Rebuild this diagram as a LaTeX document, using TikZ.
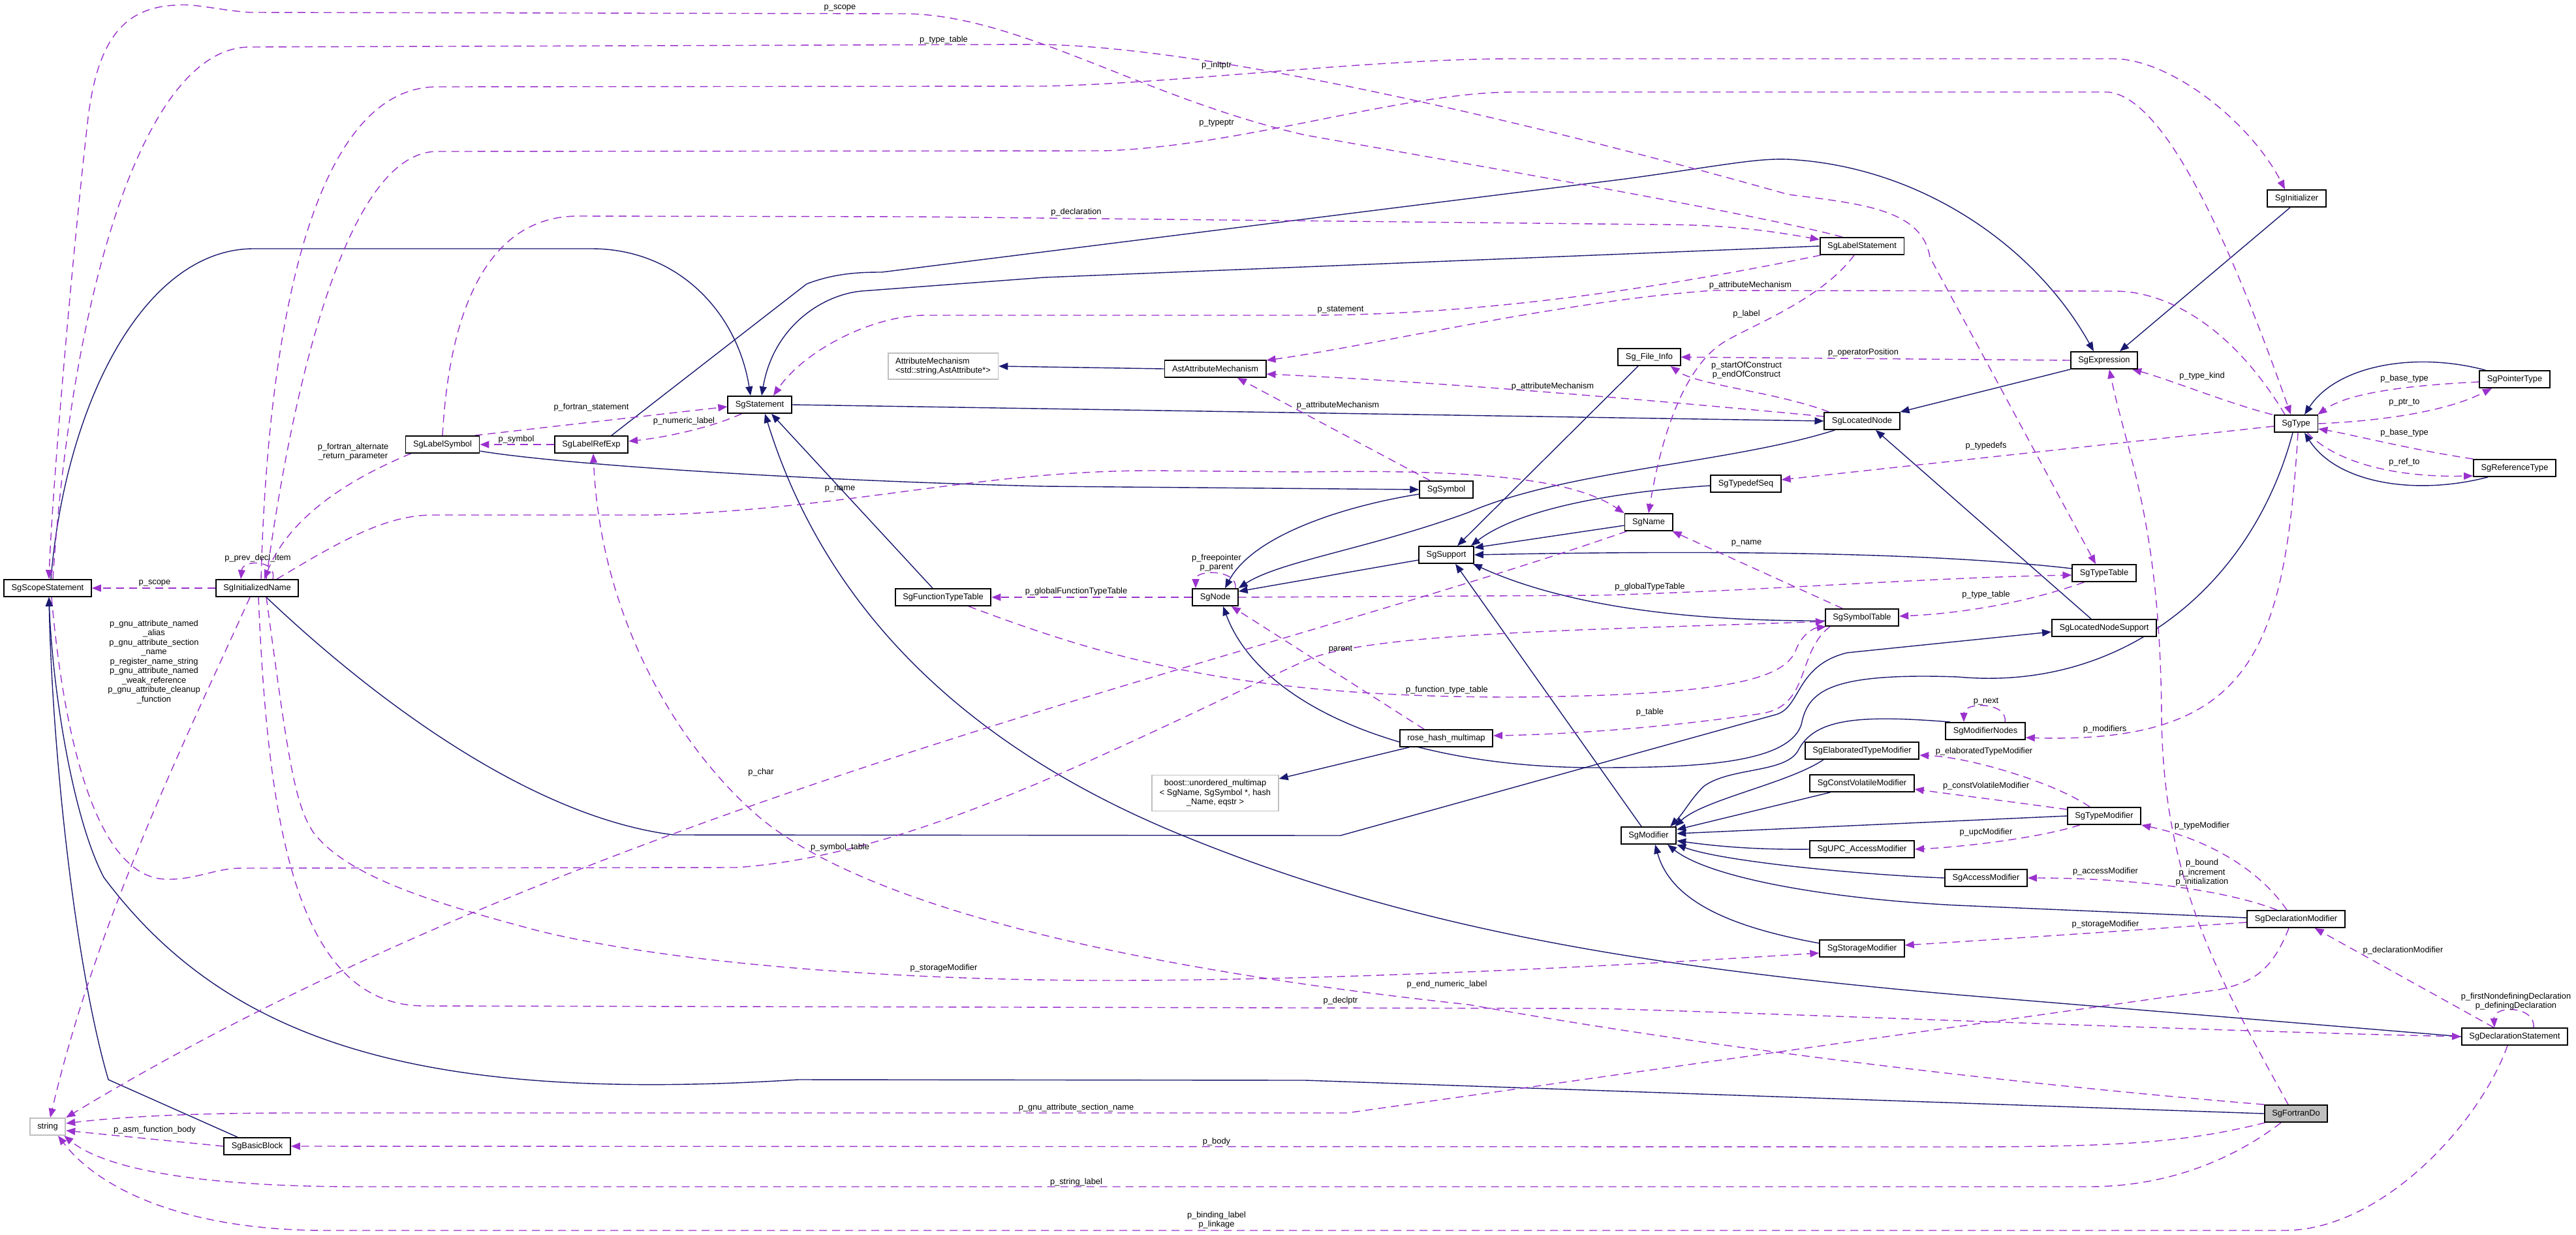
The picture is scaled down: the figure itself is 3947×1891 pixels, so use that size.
\documentclass[tikz,border=0pt]{standalone}
\usepackage{fontspec}
\setmainfont{Liberation Sans}
\usetikzlibrary{arrows.meta,calc}
\definecolor{navy}{RGB}{25,25,112}
\definecolor{orchid}{RGB}{154,50,205}
\definecolor{grey75}{RGB}{191,191,191}
\newcommand{\nfont}{\fontsize{6.42pt}{7.25pt}\selectfont}
\pgfdeclarelayer{bg}
\pgfdeclarelayer{paper}
\pgfsetlayers{paper,bg,main}
\begin{document}
\begin{tikzpicture}[x=0.5pt,y=-0.5pt,
  cls/.style={draw=black,line width=0.9pt,fill=white,minimum height=13pt,inner xsep=5.8pt,inner ysep=1pt,font=\nfont},
  extcls/.style={cls,draw=grey75},
  inh/.style={draw=navy,line width=0.7pt,-{Triangle[length=7pt,width=5.5pt]}},
  usage/.style={draw=orchid,line width=0.7pt,dash pattern=on 6pt off 4pt,-{Triangle[length=7pt,width=5.5pt]}},
  lbl/.style={font=\nfont,inner sep=0pt,align=center}]
\begin{pgfonlayer}{paper}
\fill[white] (0,0) rectangle (3947,1891);
\end{pgfonlayer}
\useasboundingbox (0,0) rectangle (3947,1891);
% nodes
\node[cls] (scope) at (73,901) {SgScopeStatement};
\node[cls] (iname) at (394,901) {SgInitializedName};
\node[cls] (lsym) at (678,681) {SgLabelSymbol};
\node[cls] (lref) at (906,681) {SgLabelRefExp};
\node[cls] (stmt) at (1164,620) {SgStatement};
\node[extcls,align=left,inner ysep=3.5pt] (attm) at (1445,561) {AttributeMechanism\\<std::string,AstAttribute*>};
\node[cls] (astm) at (1862,565) {AstAttributeMechanism};
\node[cls] (lstmt) at (2853,377) {SgLabelStatement};
\node[cls] (finfo) at (2527,547) {Sg\_File\_Info};
\node[cls] (lnode) at (2853,645) {SgLocatedNode};
\node[cls] (init) at (3519,304) {SgInitializer};
\node[cls] (expr) at (3224,552) {SgExpression};
\node[cls] (ptype) at (3853,581) {SgPointerType};
\node[cls] (sgtype) at (3518,649) {SgType};
\node[cls] (rtype) at (3853,717) {SgReferenceType};
\node[cls] (ttab) at (3224,878) {SgTypeTable};
\node[cls] (lns) at (3224,962) {SgLocatedNodeSupport};
\node[cls] (mnodes) at (3042,1120) {SgModifierNodes};
\node[cls] (tmod) at (3224,1250) {SgTypeModifier};
\node[cls] (sym) at (2216,750) {SgSymbol};
\node[cls] (sup) at (2216,850) {SgSupport};
\node[cls] (sgname) at (2526,800) {SgName};
\node[cls] (tdseq) at (2675,741) {SgTypedefSeq};
\node[cls] (symtab) at (2853,946) {SgSymbolTable};
\node[cls] (rhm) at (2216,1131) {rose\_hash\_multimap};
\node[cls] (etmod) at (2853,1150) {SgElaboratedTypeModifier};
\node[cls] (cvmod) at (2853,1200) {SgConstVolatileModifier};
\node[cls] (sgmod) at (2526,1280) {SgModifier};
\node[cls] (ftt) at (1445,915) {SgFunctionTypeTable};
\node[cls] (sgnode) at (1862,915) {SgNode};
\node[extcls,align=center,inner ysep=3.5pt] (boost) at (1862,1215) {boost::unordered\_multimap\\< SgName, SgSymbol *, hash\\\_Name, eqstr >};
\node[cls] (upc) at (2853,1301) {SgUPC\_AccessModifier};
\node[cls] (amod) at (3043,1345) {SgAccessModifier};
\node[cls] (smod) at (2853,1453) {SgStorageModifier};
\node[cls] (dmod) at (3518,1408) {SgDeclarationModifier};
\node[cls] (dstmt) at (3853,1588) {SgDeclarationStatement};
\node[cls,fill=grey75] (fdo) at (3518,1706) {SgFortranDo};
\node[extcls] (str) at (73,1726) {string};
\node[cls] (bb) at (394,1756) {SgBasicBlock};
\begin{pgfonlayer}{bg}
% inheritance
\draw[inh] ($(scope.north)+(5,0)$) .. controls (100,620) and (220,381) .. (389,381) -- (906,381) .. controls (1040,381) and (1130,480) .. ($(stmt.north)+(-14,0)$);
\draw[inh] ($(bb.north)+(-30,0)$) -- (166,1654) .. controls (115,1480) and (80,1150) .. ($(scope.south)+(2,0)$);
\draw[inh] (fdo.west) -- (2000,1655) -- (1223,1654) .. controls (650,1690) and (350,1600) .. (159,1344) .. controls (110,1250) and (80,1050) .. ($(scope.south)+(2,0)$);
\draw[inh] (stmt.east) -- (lnode.west);
\draw[inh] (lstmt.west) -- (1600,425) -- (1319,446) .. controls (1260,452) and (1185,500) .. ($(stmt.north)+(3,0)$);
\draw[inh] (dstmt.west) -- (3000,1524) .. controls (2500,1480) and (2150,1420) .. (1800,1275) .. controls (1500,1150) and (1270,950) .. ($(stmt.south)+(8,0)$);
\draw[inh] ($(ftt.north)+(-16,0)$) -- ($(stmt.south)+(18,0)$);
\draw[inh] ($(lref.north)+(31,0)$) -- (1236,435) .. controls (1280,418) and (1320,417) .. (1351,417) -- (2491,274) .. controls (2650,252) and (2700,240) .. (2753,245) .. controls (2950,260) and (3120,380) .. ($(expr.north)+(-16,0)$);
\draw[inh] ($(init.south)+(-10,0)$) -- ($(expr.north)+(24,0)$);
\draw[inh] (expr.south west) -- (lnode.north east);
\draw[inh] (astm.west) -- (attm.east);
\draw[inh] ($(lsym.east)+(0,10)$) .. controls (850,710) and (1200,735) .. (1600,745) -- (sym.west);
\draw[inh] ($(sym.west)+(0,7)$) .. controls (2060,775) and (1920,820) .. ($(sgnode.north)+(15,0)$);
\draw[inh] ($(lnode.south west)+(17,0)$) .. controls (2650,710) and (2400,720) .. (2250,785) .. controls (2100,840) and (1960,860) .. (sgnode.north east);
\draw[inh] ($(sup.west)+(0,8)$) -- ($(sgnode.east)+(0,-9)$);
\draw[inh] ($(sgtype.south)+(-5,0)$) .. controls (3450,900) and (3250,1060) .. (3000,1037) .. controls (2800,1030) and (2770,1060) .. (2760,1110) .. controls (2740,1170) and (2600,1176) .. (2446,1176) .. controls (2150,1176) and (1930,1080) .. ($(sgnode.south)+(12,0)$);
\draw[inh] ($(finfo.south)+(-17,0)$) -- ($(sup.north)+(17,0)$);
\draw[inh] ($(sgname.west)+(0,5)$) -- ($(sup.north east)+(0,3)$);
\draw[inh] ($(tdseq.west)+(0,3)$) .. controls (2450,755) and (2320,785) .. ($(sup.north east)+(-5,0)$);
\draw[inh] ($(ttab.west)+(0,-7)$) .. controls (2950,845) and (2600,843) .. (sup.east);
\draw[inh] ($(symtab.west)+(0,5)$) .. controls (2550,952) and (2380,920) .. ($(sup.south east)+(-2,0)$);
\draw[inh] ($(sgmod.north)+(-11,0)$) -- ($(sup.south)+(14,0)$);
\draw[inh] ($(lns.north)+(-20,0)$) -- ($(lnode.south)+(21,0)$);
\draw[inh] ($(iname.south)+(14,0)$) .. controls (550,1050) and (800,1250) .. (1032,1279) -- (2054,1280) -- (2720,1095) .. controls (2760,1085) and (2750,1020) .. (2830,1000) -- ($(lns.west)+(0,6)$);
\draw[inh] ($(rhm.south west)+(15,0)$) -- ($(boost.east)+(0,-22)$);
\draw[inh] ($(mnodes.north west)+(8,0)$) .. controls (2850,1095) and (2780,1100) .. (2755,1150) .. controls (2735,1185) and (2650,1175) .. (2610,1205) .. controls (2590,1225) and (2580,1245) .. ($(sgmod.north east)+(-10,0)$);
\draw[inh] ($(etmod.south west)+(29,0)$) .. controls (2740,1200) and (2610,1225) .. ($(sgmod.north east)+(-3,0)$);
\draw[inh] ($(cvmod.south west)+(32,0)$) -- ($(sgmod.east)+(0,-9)$);
\draw[inh] (tmod.west) -- ($(sgmod.east)+(0,-3)$);
\draw[inh] (upc.west) .. controls (2680,1302) and (2620,1295) .. ($(sgmod.east)+(0,8)$);
\draw[inh] (amod.west) .. controls (2850,1340) and (2640,1320) .. (sgmod.south east);
\draw[inh] ($(dmod.west)+(0,-2)$) -- (3000,1387) .. controls (2800,1377) and (2620,1345) .. ($(sgmod.south)+(29,0)$);
\draw[inh] ($(smod.west)+(0,-8)$) .. controls (2650,1420) and (2560,1380) .. ($(sgmod.south)+(10,0)$);
\draw[inh] ($(rtype.south west)+(23,0)$) .. controls (3700,760) and (3580,740) .. ($(sgtype.south)+(13,0)$);
\draw[inh] ($(ptype.north west)+(10,0)$) .. controls (3700,538) and (3580,560) .. ($(sgtype.north)+(13,0)$);
% usage
\draw[usage] (iname.west) -- (scope.east);
\draw[usage] ($(iname.north)+(24,0)$) .. controls (425,857) and (372,857) .. ($(iname.north)+(-25,0)$);
\draw[usage] ($(lsym.south west)+(9,0)$) .. controls (520,740) and (440,800) .. ($(iname.north)+(11,0)$);
\draw[usage] ($(lsym.north east)+(-8,0)$) -- ($(stmt.west)+(0,3)$);
\draw[usage] (lref.west) -- (lsym.east);
\draw[usage] ($(stmt.south west)+(22,0)$) .. controls (1090,655) and (1020,670) .. ($(lref.east)+(0,-5)$);
\draw[usage] ($(iname.north east)+(-34,0)$) .. controls (520,830) and (590,789) .. (663,789) -- (1000,789) .. controls (1300,780) and (1500,721) .. (1765,721) -- (2000,723) .. controls (2300,718) and (2420,740) .. (sgname.north west);
\draw[usage] ($(iname.north)+(6,0)$) .. controls (410,500) and (480,133) .. (670,133) -- (1600,132) .. controls (1800,128) and (2100,90) .. (2320,90) -- (3240,90) .. controls (3330,92) and (3450,190) .. ($(init.north)+(-18,0)$);
\draw[usage] ($(iname.north)+(14,0)$) .. controls (440,650) and (520,232) .. (670,232) -- (1690,231) .. controls (1900,225) and (2150,141) .. (2320,141) -- (3230,141) .. controls (3320,150) and (3420,380) .. ($(sgtype.north)+(-8,0)$);
\draw[usage] ($(scope.north)+(8,0)$) .. controls (110,450) and (220,72) .. (383,72) -- (1590,68) .. controls (1900,72) and (2500,230) .. (2740,298) .. controls (2850,312) and (2945,320) .. (2957,394) -- ($(ttab.north)+(-13,0)$);
\draw[usage] ($(lstmt.north)+(-30,0)$) .. controls (2700,330) and (2300,260) .. (2000,207) .. controls (1750,150) and (1560,21) .. (1383,21) -- (383,19) .. controls (330,15) and (300,5) .. (268,8) .. controls (190,12) and (150,60) .. (135,180) .. controls (110,400) and (80,750) .. ($(scope.north)+(2,0)$);
\draw[usage] (lsym.north) .. controls (690,450) and (760,331) .. (886,331) -- (1400,332) -- (2540,344) .. controls (2650,344) and (2720,355) .. ($(lstmt.west)+(0,-10)$);
\draw[usage] ($(lstmt.south west)+(2,0)$) .. controls (2600,430) and (2300,483) .. (2000,483) -- (1415,483) .. controls (1330,485) and (1230,540) .. ($(stmt.north)+(21,0)$);
\draw[usage] ($(sgtype.north)+(-17,0)$) .. controls (3420,500) and (3320,446) .. (3240,446) -- (2625,445) .. controls (2400,460) and (2100,530) .. ($(astm.east)+(0,-13)$);
\draw[usage] ($(lnode.west)+(0,-7)$) .. controls (2500,610) and (2200,585) .. ($(astm.east)+(0,8)$);
\draw[usage] ($(sym.north)+(-25,0)$) -- ($(astm.south)+(34,0)$);
\draw[usage] (expr.west) -- (finfo.east);
\draw[usage] ($(lnode.north west)+(8,0)$) .. controls (2720,600) and (2600,590) .. ($(finfo.south east)+(-16,0)$);
\draw[usage] ($(lstmt.south)+(-12,0)$) .. controls (2790,460) and (2680,500) .. (2640,525) .. controls (2570,570) and (2540,700) .. (sgname.north);
\draw[usage] ($(sgnode.north)+(31,0)$) .. controls (1897,872) and (1832,872) .. ($(sgnode.north)+(-30,0)$);
\draw[usage] (sgnode.west) -- (ftt.east);
\draw[usage] (sgnode.east) -- (2450,912) .. controls (2700,905) and (2950,885) .. ($(ttab.west)+(0,3)$);
\draw[usage] ($(ftt.south east)+(-35,0)$) .. controls (1700,1010) and (1900,1068) .. (2320,1068) .. controls (2650,1065) and (2735,1040) .. (2752,995) .. controls (2762,970) and (2780,962) .. ($(symtab.south west)+(2,0)$);
\draw[usage] ($(symtab.south west)+(8,0)$) .. controls (2752,1000) and (2775,1080) .. (2700,1093) .. controls (2550,1115) and (2400,1125) .. ($(rhm.east)+(0,-4)$);
\draw[usage] ($(rhm.north)+(-34,0)$) -- ($(sgnode.south east)+(-11,0)$);
\draw[usage] ($(scope.south)+(6,0)$) .. controls (95,1100) and (140,1345) .. (255,1347) .. controls (300,1348) and (330,1330) .. (370,1330) -- (1128,1329) .. controls (1400,1310) and (1700,1150) .. (2000,1012) .. controls (2100,968) and (2450,965) .. ($(symtab.west)+(0,6)$);
\draw[usage] ($(sgname.south west)+(4,0)$) .. controls (1900,1020) and (900,1230) .. (str.north east);
\draw[usage] ($(iname.south)+(-11,0)$) .. controls (300,1100) and (150,1400) .. ($(str.north)+(4,0)$);
\draw[usage] ($(iname.south)+(2,0)$) .. controls (410,1250) and (450,1541) .. (650,1541) -- (2450,1545) .. controls (2800,1555) and (3400,1580) .. (dstmt.west);
\draw[usage] ($(iname.south)+(14,0)$) .. controls (440,1150) and (450,1230) .. (480,1275) .. controls (530,1340) and (650,1380) .. (829,1427) .. controls (1050,1480) and (1400,1502) .. (1700,1502) .. controls (2000,1502) and (2400,1485) .. ($(smod.west)+(0,7)$);
\draw[usage] (fdo.north west) .. controls (3200,1670) and (2700,1620) .. (2250,1539) .. controls (1700,1480) and (1300,1380) .. (1150,1240) .. controls (1040,1140) and (920,950) .. ($(lref.south)+(3,0)$);
\draw[usage] ($(fdo.north)+(-12,0)$) .. controls (3400,1500) and (3315,1350) .. (3312,1100) .. controls (3310,800) and (3260,700) .. ($(expr.south)+(8,0)$);
\draw[usage] ($(dmod.north)+(-14,0)$) .. controls (3460,1330) and (3380,1285) .. (tmod.south east);
\draw[usage] ($(dmod.north)+(-29,0)$) .. controls (3400,1360) and (3250,1345) .. (amod.east);
\draw[usage] ($(dmod.west)+(0,5)$) .. controls (3200,1430) and (3000,1443) .. ($(smod.east)+(0,-5)$);
\draw[usage] ($(dstmt.north)+(-32,0)$) -- ($(dmod.south east)+(-47,0)$);
\draw[usage] ($(dstmt.north)+(29,0)$) .. controls (3885,1540) and (3820,1540) .. ($(dstmt.north)+(-31,0)$);
\draw[usage] ($(dmod.south)+(-11,0)$) .. controls (3480,1490) and (3450,1505) .. (3400,1516) -- (2064,1705) -- (450,1705) .. controls (250,1705) and (150,1715) .. ($(str.east)+(0,-5)$);
\draw[usage] ($(fdo.south west)+(2,0)$) .. controls (3350,1750) and (3250,1757) .. (3000,1757) -- (bb.east);
\draw[usage] ($(fdo.south)+(-23,0)$) .. controls (3430,1770) and (3330,1818) .. (3200,1818) -- (550,1818) .. controls (300,1818) and (160,1790) .. ($(str.south east)+(-3,0)$);
\draw[usage] ($(dstmt.south)+(-11,0)$) .. controls (3800,1720) and (3650,1885) .. (3500,1885) -- (500,1885) .. controls (280,1885) and (150,1820) .. ($(str.south)+(16,0)$);
\draw[usage] (bb.west) -- ($(str.east)+(0,6)$);
\draw[usage] ($(sgtype.north west)+(-2,0)$) .. controls (3420,620) and (3320,580) .. ($(expr.south east)+(-9,0)$);
\draw[usage] ($(ptype.west)+(0,4)$) .. controls (3700,590) and (3600,600) .. ($(sgtype.north east)+(-1,0)$);
\draw[usage] (sgtype.east) .. controls (3650,645) and (3750,630) .. ($(ptype.south)+(-35,0)$);
\draw[usage] (rtype.north west) .. controls (3700,690) and (3600,665) .. ($(sgtype.east)+(0,8)$);
\draw[usage] ($(sgtype.south east)+(-17,0)$) .. controls (3570,700) and (3650,732) .. ($(rtype.west)+(0,12)$);
\draw[usage] ($(sgtype.west)+(0,4)$) -- ($(tdseq.east)+(0,-6)$);
\draw[usage] ($(sgtype.south)+(3,0)$) .. controls (3500,1000) and (3450,1140) .. ($(mnodes.east)+(0,10)$);
\draw[usage] ($(mnodes.north)+(30,0)$) .. controls (3077,1075) and (3009,1075) .. ($(mnodes.north)+(-33,0)$);
\draw[usage] ($(tmod.north)+(-22,0)$) .. controls (3150,1200) and (3020,1160) .. ($(etmod.east)+(0,7)$);
\draw[usage] ($(tmod.west)+(0,-10)$) .. controls (3080,1228) and (3000,1218) .. ($(cvmod.east)+(0,9)$);
\draw[usage] ($(tmod.south west)+(20,0)$) .. controls (3120,1285) and (3000,1298) .. (upc.east);
\draw[usage] ($(ttab.south west)+(19,0)$) .. controls (3100,925) and (3000,940) .. ($(symtab.east)+(0,-2)$);
\draw[usage] ($(symtab.north)+(-30,0)$) -- ($(sgname.south east)+(-1,0)$);
\end{pgfonlayer}
% labels
\node[lbl] (l1) at (1287,12) {p\_scope};
\node[lbl] (l2) at (1446,61) {p\_type\_table};
\node[lbl] (l3) at (1864,100) {p\_initptr};
\node[lbl] (l4) at (1864,189) {p\_typeptr};
\node[lbl] (l5) at (1649,325) {p\_declaration};
\node[lbl] (l6) at (2682,437) {p\_attributeMechanism};
\node[lbl] (l7) at (2054,475) {p\_statement};
\node[lbl] (l8) at (2676,481) {p\_label};
\node[lbl] (l9) at (2855,540) {p\_operatorPosition};
\node[lbl] (l10) at (2676,567) {p\_startOfConstruct\\p\_endOfConstruct};
\node[lbl] (l11) at (2379,592) {p\_attributeMechanism};
\node[lbl] (l12) at (2050,621) {p\_attributeMechanism};
\node[lbl] (l13) at (906,624) {p\_fortran\_statement};
\node[lbl] (l14) at (1048,645) {p\_numeric\_label};
\node[lbl] (l15) at (791,673) {p\_symbol};
\node[lbl] (l16) at (541,692) {p\_fortran\_alternate\\\_return\_parameter};
\node[lbl] (l17) at (1287,749) {p\_name};
\node[lbl] (l18) at (395,855) {p\_prev\_decl\_item};
\node[lbl] (l19) at (237,893) {p\_scope};
\node[lbl] (l20) at (236,1014) {p\_gnu\_attribute\_named\\\_alias\\p\_gnu\_attribute\_section\\\_name\\p\_register\_name\_string\\p\_gnu\_attribute\_named\\\_weak\_reference\\p\_gnu\_attribute\_cleanup\\\_function};
\node[lbl] (l21) at (1864,862) {p\_freepointer\\p\_parent};
\node[lbl] (l22) at (1649,906) {p\_globalFunctionTypeTable};
\node[lbl] (l23) at (2676,832) {p\_name};
\node[lbl] (l24) at (2528,899) {p\_globalTypeTable};
\node[lbl] (l25) at (3043,683) {p\_typedefs};
\node[lbl] (l26) at (3043,911) {p\_type\_table};
\node[lbl] (l27) at (2054,995) {parent};
\node[lbl] (l28) at (2217,1057) {p\_function\_type\_table};
\node[lbl] (l29) at (2528,1091) {p\_table};
\node[lbl] (l30) at (1166,1183) {p\_char};
\node[lbl] (l31) at (1287,1298) {p\_symbol\_table};
\node[lbl] (l32) at (1446,1483) {p\_storageModifier};
\node[lbl] (l33) at (2217,1508) {p\_end\_numeric\_label};
\node[lbl] (l34) at (2054,1533) {p\_declptr};
\node[lbl] (l35) at (1649,1697) {p\_gnu\_attribute\_section\_name};
\node[lbl] (l36) at (1864,1749) {p\_body};
\node[lbl] (l37) at (1649,1811) {p\_string\_label};
\node[lbl] (l38) at (1864,1869) {p\_binding\_label\\p\_linkage};
\node[lbl] (l39) at (237,1731) {p\_asm\_function\_body};
\node[lbl] (l40) at (3374,576) {p\_type\_kind};
\node[lbl] (l41) at (3684,580) {p\_base\_type};
\node[lbl] (l42) at (3684,617) {p\_ptr\_to};
\node[lbl] (l43) at (3684,663) {p\_base\_type};
\node[lbl] (l44) at (3684,708) {p\_ref\_to};
\node[lbl] (l45) at (3043,1075) {p\_next};
\node[lbl] (l46) at (3225,1117) {p\_modifiers};
\node[lbl] (l47) at (3040,1151) {p\_elaboratedTypeModifier};
\node[lbl] (l48) at (3043,1204) {p\_constVolatileModifier};
\node[lbl] (l49) at (3043,1275) {p\_upcModifier};
\node[lbl] (l50) at (3374,1265) {p\_typeModifier};
\node[lbl] (l51) at (3374,1337) {p\_bound\\p\_increment\\p\_initialization};
\node[lbl] (l52) at (3226,1335) {p\_accessModifier};
\node[lbl] (l53) at (3226,1416) {p\_storageModifier};
\node[lbl] (l54) at (3682,1456) {p\_declarationModifier};
\node[lbl] (l55) at (3855,1534) {p\_firstNondefiningDeclaration\\p\_definingDeclaration};
\end{tikzpicture}
\end{document}
